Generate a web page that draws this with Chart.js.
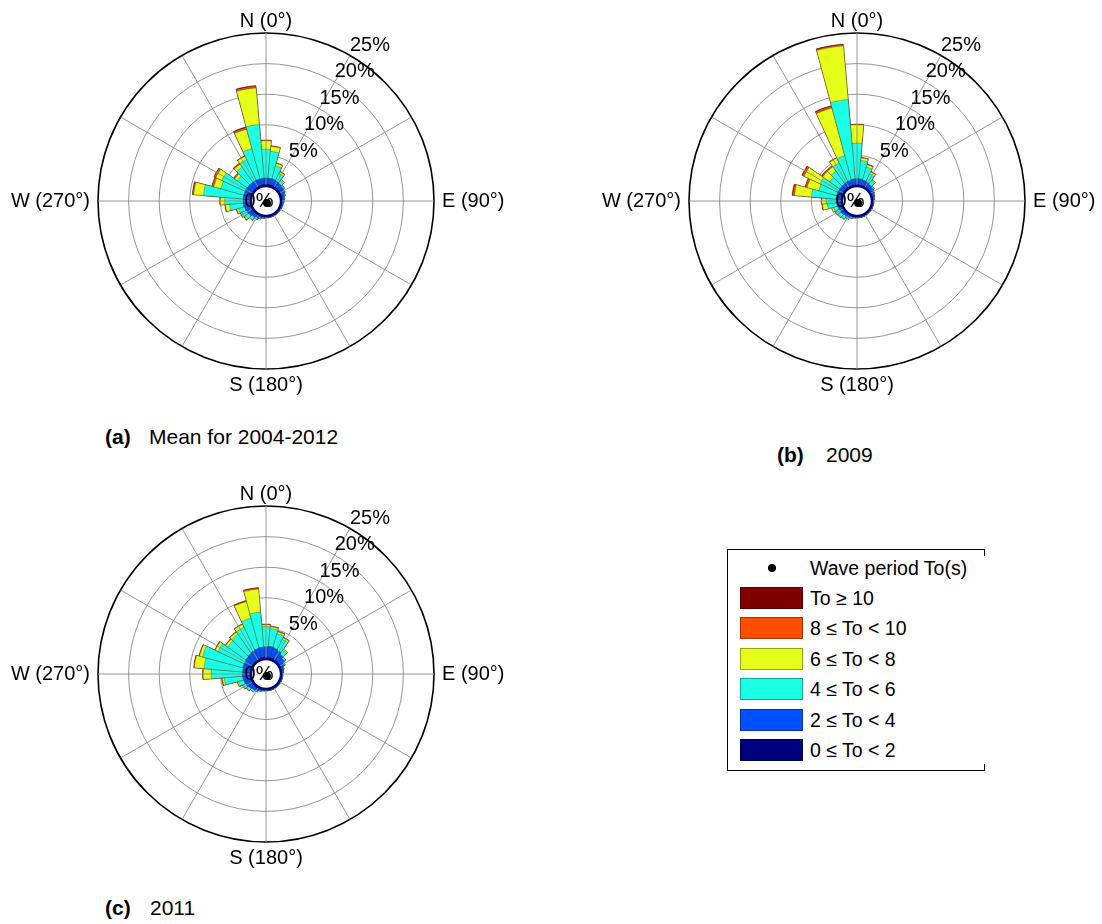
<!DOCTYPE html>
<html>
<head>
<meta charset="utf-8">
<script src="https://cdn.jsdelivr.net/npm/chart.js@4.4.1/dist/chart.umd.min.js"></script>
<style>
  html, body { margin: 0; padding: 0; background: #fff; }
  body { width: 1102px; height: 924px; position: relative; overflow: hidden;
         font-family: "Liberation Sans", Arial, sans-serif; color: #000; }
  canvas { position: absolute; }
  .cap { position: absolute; font-size: 21px; line-height: 24px; white-space: nowrap; }
  .cap.b { font-weight: bold; }
  #legend { position: absolute; left: 727px; top: 549px; width: 256px; height: 220px;
            border-left: 1.5px solid #000; border-top: 1.5px solid #000; border-bottom: 1.5px solid #000; }
  .tick { position: absolute; right: -1px; width: 1.5px; height: 7px; background: #000; }
  .row { position: absolute; left: 0; height: 24px; width: 256px; }
  .sw { position: absolute; left: 12px; top: 1px; width: 61px; height: 20px; border: 1px solid rgba(0,0,0,0.35); }
  .lt { position: absolute; left: 82px; top: 0; font-size: 19.5px; line-height: 24px; white-space: nowrap; }
  .dot { position: absolute; left: 40px; top: 8px; width: 8px; height: 8px; border-radius: 50%; background: #000; }
</style>
</head>
<body>

<canvas id="roseA" width="540" height="420" style="left:0px;top:0px"></canvas>
<canvas id="roseB" width="540" height="420" style="left:591px;top:0px"></canvas>
<canvas id="roseC" width="540" height="420" style="left:0px;top:473px"></canvas>

<div class="cap b" style="left:105px;top:425px">(a)</div>
<div class="cap" style="left:149px;top:425px">Mean for 2004-2012</div>
<div class="cap b" style="left:777px;top:443px">(b)</div>
<div class="cap" style="left:826px;top:443px">2009</div>
<div class="cap b" style="left:105px;top:896px">(c)</div>
<div class="cap" style="left:150px;top:896px">2011</div>

<div id="legend">
  <div class="tick" style="top:-1px"></div>
  <div class="tick" style="bottom:-1px"></div>
</div>

<script>
// Direction sectors (degrees clockwise from north), 10° wide
const DIRECTIONS = ['0°','10°','20°','30°','40°','50°','60°','70°','80°','90°','100°','110°',
  '120°','130°','140°','150°','160°','170°','180°','190°','200°','210°','220°','230°',
  '240°','250°','260°','270°','280°','290°','300°','310°','320°','330°','340°','350°'];

// Wave period classes, from shortest to longest
const CLASS_LABELS = ['0 \u2264 To < 2', '2 \u2264 To < 4', '4 \u2264 To < 6', '6 \u2264 To < 8', '8 \u2264 To < 10', 'To \u2265 10'];
const CLASS_COLORS = ['#00007f', '#0050ff', '#1affe6', '#e6ff1a', '#ff4d00', '#7f0000'];

// Radial rings (% of occurrence) and their tick labels
const RING_VALUES = [0, 5, 10, 15, 20, 25];
const RING_LABELS = ['0%', '5%', '10%', '15%', '20%', '25%'];

// (a) Mean for 2004-2012 — frequency (%) per direction for each period class
const meanT0 = [.3,.3,.3,.3,.3,.2,.2,.2,.2,.1,.1,.1,.1,.1,.1,.1,.1,.1,.1,.1,.1,.1,.1,.2,.2,.2,.2,.2,.2,.2,.2,.2,.2,.2,.2,.3];
const meanT2 = [1.0,1.0,1.0,.9,.8,.8,.7,.5,.3,.3,.2,.2,.15,.15,.15,.15,.15,.15,.15,.2,.3,.5,.7,.8,.9,1.0,1.1,1.1,1.1,1.1,1.1,1.1,1.1,1.1,1.1,1.0];
const meanT4 = [4.7,4.4,2.2,1.3,.5,.2,.1,.1,.1,.1,.1,.05,.05,.05,.05,.05,.05,.05,.05,.1,.2,.3,.5,.7,.8,1.0,2.2,3.0,6.5,3.9,4.2,2.0,3.0,3.7,5.1,8.8];
const meanT6 = [1.4,.8,.4,.3,.2,0,0,0,0,0,0,0,0,0,0,0,0,0,0,0,0,0,.1,.2,.2,.3,.7,.7,1.6,1.2,1.1,.5,.6,.6,3.3,6.0];
const meanT8 = [.1,.1,.1,.1,0,0,0,0,0,0,0,0,0,0,0,0,0,0,0,0,0,0,0,.1,.1,.1,.1,.1,.2,.3,.3,.2,.2,.1,.3,.3];
const meanT10 = [0,0,0,0,0,0,0,0,0,0,0,0,0,0,0,0,0,0,0,0,0,0,0,0,0,0,0,0,.05,.05,.05,0,0,0,.1,.1];

// (b) 2009
const y2009T0 = [.2,.2,.2,.2,.2,.2,.1,.1,.1,.1,.1,.1,.1,.1,.1,.1,.1,.1,.1,.1,.1,.1,.1,.1,.1,.2,.2,.2,.2,.2,.2,.2,.2,.2,.2,.2];
const y2009T2 = [1.0,1.0,.9,.8,.7,.6,.5,.4,.3,.15,.15,.15,.15,.15,.15,.15,.15,.15,.15,.2,.25,.4,.5,.6,.6,.6,.7,.7,.8,.8,.8,.8,.8,.9,.9,1.0];
const y2009T4 = [5.8,3.0,2.2,1.4,.7,.2,.1,.05,.05,.05,.05,.05,.05,.05,.05,.05,.05,.05,.05,.05,.15,.3,.5,.6,.6,.7,1.5,1.7,4.0,3.0,3.2,2.0,2.5,3.3,4.1,13.0];
const y2009T6 = [3.0,.4,.4,.4,.2,0,0,0,0,0,0,0,0,0,0,0,0,0,0,0,0,.05,.1,.1,.2,.3,.8,.7,2.8,2.0,2.9,1.4,.9,.9,8.1,8.8];
const y2009T8 = [.1,.1,.1,.1,0,0,0,0,0,0,0,0,0,0,0,0,0,0,0,0,0,0,0,0,0,0,.1,.1,.3,.3,.3,.2,.2,.1,.3,.2];
const y2009T10 = [0,0,0,0,0,0,0,0,0,0,0,0,0,0,0,0,0,0,0,0,0,0,0,0,0,0,0,0,.1,.05,.1,.05,0,0,.1,.1];

// (c) 2011
const y2011T0 = [.3,.3,.3,.3,.3,.2,.2,.1,.1,.1,.1,.1,.1,.1,.1,.1,.1,.1,.1,.1,.1,.1,.2,.2,.2,.2,.2,.2,.2,.2,.2,.2,.2,.2,.3,.3];
const y2011T2 = [1.7,1.8,1.7,1.5,1.2,1.0,.6,.4,.3,.15,.15,.15,.15,.15,.15,.15,.15,.15,.15,.2,.3,.5,.6,.8,1.0,1.1,1.2,1.2,1.2,1.3,1.3,1.4,1.5,1.6,1.6,1.7];
const y2011T4 = [3.3,2.9,2.4,2.0,.8,.3,.2,.1,.05,.05,.05,.05,.05,.05,.05,.05,.05,.05,.05,.05,.1,.2,.3,.4,.5,.9,3.0,5.1,6.3,6.8,4.7,3.6,3.8,4.2,5.1,5.7];
const y2011T6 = [.3,.3,.3,.3,.2,0,0,0,0,0,0,0,0,0,0,0,0,0,0,0,0,0,0,.1,.1,.2,.3,1.3,1.6,.5,.5,.4,.4,.5,2.8,3.8];
const y2011T8 = [.1,.1,.1,.1,0,0,0,0,0,0,0,0,0,0,0,0,0,0,0,0,0,0,0,0,0,0,.1,.1,.1,.1,.1,.1,.1,.1,.1,.2];
const y2011T10 = [0,0,0,0,0,0,0,0,0,0,0,0,0,0,0,0,0,0,0,0,0,0,0,0,0,0,0,0,0,0,0,0,0,0,.05,.05];

// Geometry of each rose panel: 25% ring radius and the empty hub radius (0%)
const OUTER_PX = 168;
const HUB_PX = 15;
const R_MAX = 25;
const R_MIN = -HUB_PX * R_MAX / (OUTER_PX - HUB_PX);

// Stack the classes: each dataset holds the running total so arcs overlay as stacked bars
function stackedDatasets(classes) {
  const running = classes[0].map(() => 0);
  return classes.map((vals, k) => {
    const data = vals.map((v, i) => (running[i] += v, +running[i].toFixed(3)));
    return {
      label: CLASS_LABELS[k],
      data,
      backgroundColor: CLASS_COLORS[k],
      borderColor: 'rgba(40,40,40,0.55)',
      borderWidth: 0.6
    };
  });
}

// Spokes, hub, percentage labels and compass labels
const roseDecor = {
  id: 'roseDecor',
  afterDraw(chart) {
    const s = chart.scales.r;
    const ctx = chart.ctx;
    const cx = s.xCenter, cy = s.yCenter;
    const r0 = s.getDistanceFromCenterForValue(0);
    const rOut = s.getDistanceFromCenterForValue(R_MAX);
    ctx.save();
    // spokes every 30°
    ctx.strokeStyle = '#8a8a8a';
    ctx.lineWidth = 0.9;
    for (let d = 0; d < 360; d += 30) {
      const a = d * Math.PI / 180;
      ctx.beginPath();
      ctx.moveTo(cx + r0 * Math.sin(a), cy - r0 * Math.cos(a));
      ctx.lineTo(cx + rOut * Math.sin(a), cy - rOut * Math.cos(a));
      ctx.stroke();
    }
    // hub
    ctx.beginPath();
    ctx.arc(cx, cy, r0, 0, Math.PI * 2);
    ctx.fillStyle = '#fff';
    ctx.fill();
    ctx.lineWidth = 2.4;
    ctx.strokeStyle = '#00007f';
    ctx.stroke();
    // ring labels along the 30° bearing
    ctx.fillStyle = '#000';
    ctx.font = '20px "Liberation Sans", Arial, sans-serif';
    ctx.textAlign = 'left';
    ctx.textBaseline = 'alphabetic';
    const a30 = 30 * Math.PI / 180;
    RING_VALUES.forEach((v, i) => {
      if (v === 0) return;
      const r = s.getDistanceFromCenterForValue(v);
      ctx.fillText(RING_LABELS[i], cx + r * Math.sin(a30), cy - r * Math.cos(a30) - 5);
    });
    ctx.textAlign = 'center';
    ctx.textBaseline = 'middle';
    ctx.fillText(RING_LABELS[0], cx - 7, cy);
    ctx.beginPath();
    ctx.arc(cx + 1, cy + 2, 4, 0, Math.PI * 2);
    ctx.fill();
    // compass labels
    ctx.textAlign = 'center';
    ctx.textBaseline = 'alphabetic';
    ctx.fillText('N (0°)', cx, cy - rOut - 6);
    ctx.textBaseline = 'top';
    ctx.fillText('S (180°)', cx, cy + rOut + 6);
    ctx.textBaseline = 'middle';
    ctx.textAlign = 'left';
    ctx.fillText('E (90°)', cx + rOut + 8, cy);
    ctx.textAlign = 'right';
    ctx.fillText('W (270°)', cx - rOut - 8, cy);
    ctx.restore();
  }
};

function makeRose(id, classes) {
  const cv = document.getElementById(id);
  const cxPage = 266, cyPage = 201;
  return new Chart(cv, {
    type: 'polarArea',
    data: { labels: DIRECTIONS, datasets: stackedDatasets(classes) },
    options: {
      responsive: false,
      animation: false,
      events: [],
      layout: { padding: { left: cxPage - OUTER_PX, top: cyPage - OUTER_PX,
                           right: cv.width - cxPage - OUTER_PX, bottom: cv.height - cyPage - OUTER_PX } },
      plugins: { legend: { display: false }, tooltip: { enabled: false } },
      scales: {
        r: {
          min: R_MIN,
          max: R_MAX,
          startAngle: -5,
          z: 1,
          ticks: { display: false },
          pointLabels: { display: false },
          angleLines: { display: false },
          grid: {
            circular: true,
            color: c => c.tick && c.tick.value === R_MAX ? '#000' : '#8a8a8a',
            lineWidth: c => !c.tick || c.tick.value === 0 ? 0 : (c.tick.value === R_MAX ? 1.6 : 0.9)
          },
          afterBuildTicks: sc => { sc.ticks = RING_VALUES.map(v => ({ value: v })); }
        }
      }
    },
    plugins: [roseDecor]
  });
}

makeRose('roseA', [meanT0, meanT2, meanT4, meanT6, meanT8, meanT10]);
makeRose('roseB', [y2009T0, y2009T2, y2009T4, y2009T6, y2009T8, y2009T10]);
makeRose('roseC', [y2011T0, y2011T2, y2011T4, y2011T6, y2011T8, y2011T10]);

// Legend
const legend = document.getElementById('legend');
const rowCenters = [18, 47.5, 78, 108.5, 139, 169.5, 200];
const head = document.createElement('div');
head.className = 'row';
head.style.top = (rowCenters[0] - 12) + 'px';
head.innerHTML = '<div class="dot"></div><div class="lt">Wave period To(s)</div>';
legend.appendChild(head);
for (let k = CLASS_LABELS.length - 1, j = 1; k >= 0; k--, j++) {
  const row = document.createElement('div');
  row.className = 'row';
  row.style.top = (rowCenters[j] - 12) + 'px';
  const sw = document.createElement('div');
  sw.className = 'sw';
  sw.style.background = CLASS_COLORS[k];
  const t = document.createElement('div');
  t.className = 'lt';
  t.textContent = CLASS_LABELS[k];
  row.appendChild(sw);
  row.appendChild(t);
  legend.appendChild(row);
}
</script>
</body>
</html>
